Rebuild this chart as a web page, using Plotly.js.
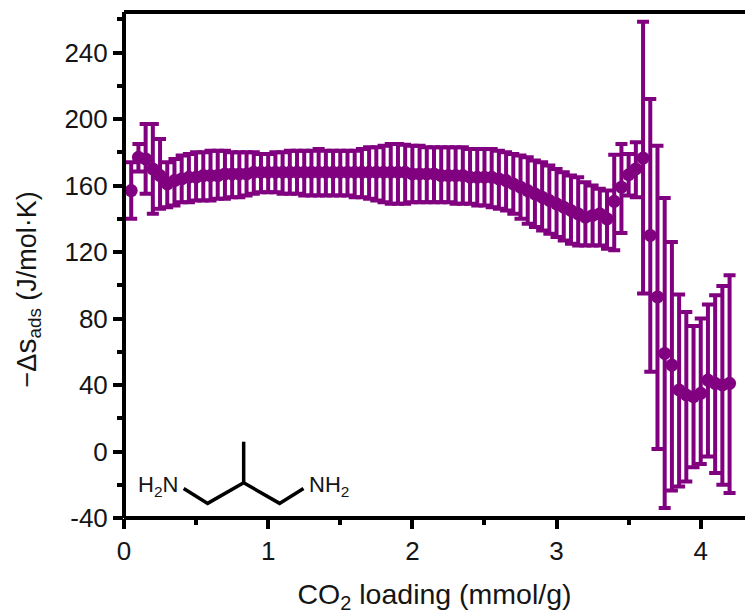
<!DOCTYPE html>
<html>
<head>
<meta charset="utf-8">
<script src="https://cdn.plot.ly/plotly-3.0.1.min.js"></script>
<style>html,body{margin:0;padding:0;background:#fff;overflow:hidden}#chart{width:745px;height:616px}</style>
</head>
<body>
<div id="chart"></div>
<script>
var loading = [0.05,0.1,0.15,0.2,0.25,0.3,0.35,0.4,0.45,0.5,0.55,0.6,0.65,0.7,0.75,0.8,0.85,0.9,0.95,1.0,
1.05,1.1,1.15,1.2,1.25,1.3,1.35,1.4,1.45,1.5,1.55,1.6,1.65,1.7,1.75,1.8,1.85,1.9,1.95,2.0,
2.05,2.1,2.15,2.2,2.25,2.3,2.35,2.4,2.45,2.5,2.55,2.6,2.65,2.7,2.75,2.8,2.85,2.9,2.95,3.0,
3.05,3.1,3.15,3.2,3.25,3.3,3.35,3.4,3.45,3.5,3.55,3.6,3.65,3.7,3.75,3.8,3.85,3.9,3.95,4.0,
4.05,4.1,4.15,4.2];
var entropy = [157,177,176,170,166,161,163,164,165,165,166,166,166,167,167,167,167,168,168,168,
168,168,168,168,168,168,168,168,168,168,168,168,168,168,168,168,168,168,168,167,
167,167,167,166,166,166,166,165,165,165,165,164,163,161,159,157,155,153,151,149,
147,145,143,141,142,143,140,150.5,159,166.5,170,176.5,130,93,59,52,37,34,33,35,
43,41,40,41];
var upper = [174,185,197,197,188,174,176,178,179,180,180,181,181,181,180,180,180,180,179,179,
180,180,181,181,181,181,182,181,181,181,181,181,182,183,183,184,185,185,184.5,184,
184,183,183,183,183,183,183,182,182,182,182,181,180,179,178,177,175,174,172,170,
168,166,165,162,160,158,157,178.5,185,179,186,258.5,212,184,152.5,126,94.5,84,75.5,80,
88.5,94,99.5,106];
var lower = [140,168.5,155,143,146,147,148,150,150,151,151,151,152,152,153,153,154,155,156,156,
156,155,155,155,154,154,154,154,154,154,154,153,153,152,151,150,149,149,149,150,
150,150,150,150,150,149,149,149,148,148,147,146,145,143,140,137,135,133,131,129,
127,125,124,124,124,124,122,121,131.5,154,153,95,48,1.5,-34,-23.5,-21,-18,-9.5,-7.5,
-3,-13,-20,-25];
var xTicks = [0,1,2,3,4];
var yTicks = [-40,0,40,80,120,160,200,240];
var purple = '#800080';
var ink = '#151515';
var fontName = '"Liberation Sans", Arial, sans-serif';

var trace = {
  x: loading, y: entropy, type: 'scatter', mode: 'markers',
  marker: {color: purple, size: 13},
  error_y: {
    type: 'data', symmetric: false,
    array: upper.map(function (u, i) { return u - entropy[i]; }),
    arrayminus: lower.map(function (l, i) { return entropy[i] - l; }),
    color: purple, thickness: 4, width: 6
  },
  hoverinfo: 'x+y', showlegend: false
};

function frameLine(x0, y0, x1, y1) {
  return {type: 'line', xref: 'paper', yref: 'paper', x0: x0, y0: y0, x1: x1, y1: y1,
          line: {color: '#000', width: 4}, layer: 'above'};
}

var layout = {
  width: 745, height: 616,
  margin: {l: 124, r: 0, t: 12.3, b: 97.7, pad: 0},
  paper_bgcolor: '#fff', plot_bgcolor: '#fff',
  font: {family: fontName, color: ink, size: 26},
  showlegend: false,
  xaxis: {
    range: [0, 4.307], tickvals: xTicks, ticktext: xTicks.map(String),
    ticks: 'outside', ticklen: 10, tickwidth: 3.5, tickcolor: '#000',
    showline: false, showgrid: false, zeroline: false,
    tickfont: {size: 26, color: ink},
    minor: {dtick: 0.5, tick0: 0, ticks: 'outside', ticklen: 6, tickwidth: 3.5, tickcolor: '#000', showgrid: false},
    title: {text: 'CO<sub>2</sub> loading (mmol/g)', font: {size: 28.5, color: ink}, standoff: 18}
  },
  yaxis: {
    range: [-40, 264.4], tickvals: yTicks, ticktext: yTicks.map(String),
    ticks: 'outside', ticklen: 10, tickwidth: 3.5, tickcolor: '#000',
    showline: false, showgrid: false, zeroline: false,
    tickfont: {size: 26, color: ink},
    minor: {dtick: 20, tick0: 0, ticks: 'outside', ticklen: 6, tickwidth: 3.5, tickcolor: '#000', showgrid: false}
  },
  shapes: [
    frameLine(0, 0, 0, 1), frameLine(0, 0, 1, 0), frameLine(0, 1, 1, 1),
    {type: 'path', xref: 'x', yref: 'y',
     path: 'M0.414,-22.2 L0.580,-31.2 L0.830,-18.8 L1.079,-31.2 L1.245,-22.2',
     line: {color: '#000', width: 3.5}},
    {type: 'path', xref: 'x', yref: 'y',
     path: 'M0.830,-18.8 L0.830,5.9',
     line: {color: '#000', width: 3.5}}
  ],
  annotations: [
    {x: 0.39, y: -20.5, xref: 'x', yref: 'y', xanchor: 'right', yanchor: 'middle', showarrow: false,
     text: 'H<sub>2</sub>N', font: {size: 22, color: ink}},
    {x: 1.27, y: -20.5, xref: 'x', yref: 'y', xanchor: 'left', yanchor: 'middle', showarrow: false,
     text: 'NH<sub>2</sub>', font: {size: 22, color: ink}},
    {x: -0.156, y: 0.452, xref: 'paper', yref: 'paper', xanchor: 'center', yanchor: 'middle', showarrow: false,
     textangle: -90,
     text: '\u2212\u0394<span style="font-size:30px">s</span><sub>ads</sub> (J/mol\u00b7K)', font: {size: 27, color: ink}}
  ]
};

Plotly.newPlot('chart', [trace], layout, {displayModeBar: false, responsive: false});
</script>
</body>
</html>
